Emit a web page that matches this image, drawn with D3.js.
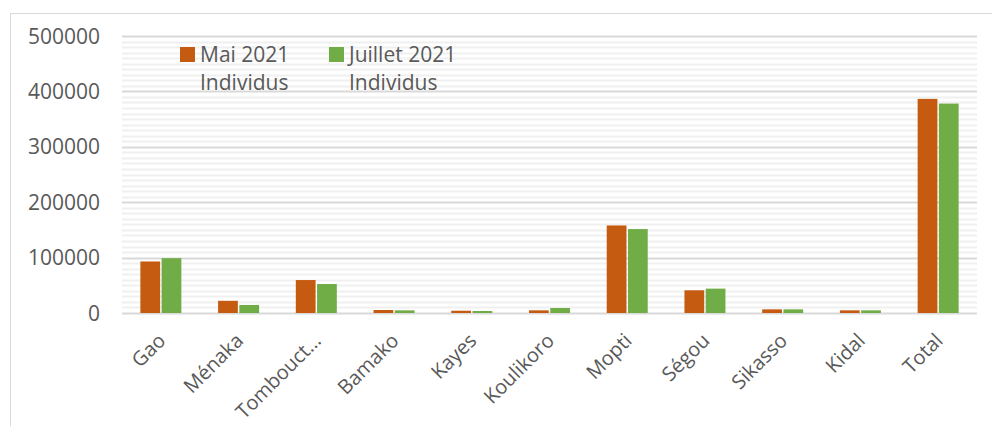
<!DOCTYPE html>
<html>
<head>
<meta charset="utf-8">
<script src="https://cdn.jsdelivr.net/npm/d3@7"></script>
<style>
  body { margin: 0; background: #fff; }
  svg { display: block; font-family: "Open Sans", sans-serif; }
</style>
</head>
<body>
<div id="chart"></div>
<script>
const regions = ['Gao', 'Ménaka', 'Tombouct…', 'Bamako', 'Kayes', 'Koulikoro', 'Mopti', 'Ségou', 'Sikasso', 'Kidal', 'Total'];
const seriesNames = ['Mai 2021', 'Juillet 2021'];
const legendSub = ['Individus', 'Individus'];
const mai2021 = [93000, 22000, 59500, 5400, 4100, 4800, 158000, 41000, 6600, 4800, 386500];
const juillet2021 = [99000, 14500, 52300, 4800, 3600, 9000, 151500, 44000, 6600, 4800, 378000];
const yTicks = [0, 100000, 200000, 300000, 400000, 500000];

const colors = ['#C55A11', '#70AD47'];
const width = 992, height = 426;
const plot = { left: 122, right: 977, top: 36, bottom: 313 };

const svg = d3.select('#chart').append('svg')
  .attr('width', width)
  .attr('height', height);

// chart frame
svg.append('rect')
  .attr('x', 10.5).attr('y', 13.5)
  .attr('width', 990).attr('height', 420)
  .attr('fill', 'none')
  .attr('stroke', '#D9D9D9')
  .attr('stroke-width', 1);

const x0 = d3.scaleBand().domain(regions).range([plot.left, plot.right]);
const groupW = 41;
const x1 = d3.scaleBand().domain(seriesNames).range([0, groupW]).paddingInner(0.07);
const y = d3.scaleLinear().domain([0, 500000]).range([plot.bottom, plot.top]);

// minor gridlines
const minor = d3.range(0, 500001, 10000).filter(v => v % 100000 !== 0);
svg.append('g').selectAll('line')
  .data(minor)
  .join('line')
  .attr('x1', plot.left).attr('x2', plot.right)
  .attr('y1', d => Math.round(y(d)) + 0.5)
  .attr('y2', d => Math.round(y(d)) + 0.5)
  .attr('stroke', '#F0F0F0')
  .attr('stroke-width', 2);

// major gridlines
svg.append('g').selectAll('line')
  .data(yTicks)
  .join('line')
  .attr('x1', plot.left).attr('x2', plot.right)
  .attr('y1', d => Math.round(y(d)) + 0.5)
  .attr('y2', d => Math.round(y(d)) + 0.5)
  .attr('stroke', '#D9D9D9')
  .attr('stroke-width', 2);

// y tick labels
svg.append('g').selectAll('text')
  .data(yTicks)
  .join('text')
  .attr('x', 100)
  .attr('y', d => y(d))
  .attr('dy', '0.36em')
  .attr('text-anchor', 'end')
  .attr('font-size', 21)
  .attr('fill', '#595959')
  .text(d => d);

// bars
const series = [mai2021, juillet2021];
const groups = svg.append('g').selectAll('g')
  .data(regions)
  .join('g')
  .attr('transform', d => `translate(${x0(d) + (x0.bandwidth() - groupW) / 2},0)`);

groups.selectAll('rect')
  .data((d, i) => seriesNames.map((s, k) => ({ s, k, v: series[k][i] })))
  .join('rect')
  .attr('x', d => x1(d.s))
  .attr('width', x1.bandwidth())
  .attr('y', d => y(d.v))
  .attr('height', d => y(0) - y(d.v))
  .attr('fill', d => colors[d.k]);

// x labels
svg.append('g').selectAll('text')
  .data(regions)
  .join('text')
  .attr('transform', d => `translate(${x0(d) + x0.bandwidth() / 2 - 4},${plot.bottom + 19}) rotate(-45)`)
  .attr('text-anchor', 'end')
  .attr('dy', '0.7em')
  .attr('font-size', 20)
  .attr('fill', '#595959')
  .text(d => d);

// legend
const legendX = [180, 329];
const leg = svg.append('g').selectAll('g')
  .data(seriesNames)
  .join('g')
  .attr('transform', (d, i) => `translate(${legendX[i]},47)`);

leg.append('rect')
  .attr('width', 15).attr('height', 15)
  .attr('fill', (d, i) => colors[i]);

leg.append('text')
  .attr('x', 20).attr('y', 15)
  .attr('font-size', 21)
  .attr('fill', '#595959')
  .text(d => d);

leg.append('text')
  .attr('x', 20).attr('y', 43)
  .attr('font-size', 21)
  .attr('fill', '#595959')
  .text((d, i) => legendSub[i]);
</script>
</body>
</html>
